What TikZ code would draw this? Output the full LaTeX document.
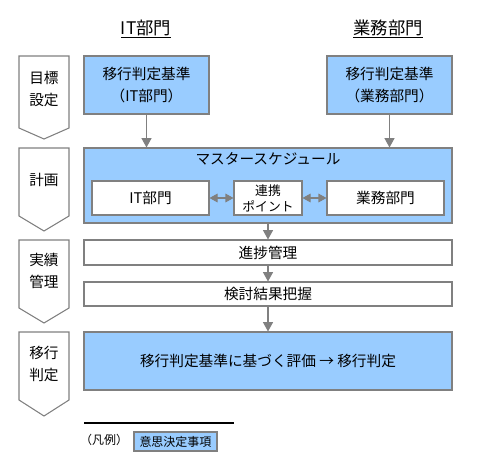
\documentclass[tikz,border=0pt]{standalone}
\usepackage{fontspec}
\setmainfont{Noto Sans CJK JP}
\usetikzlibrary{arrows.meta}
\definecolor{boxblue}{HTML}{99CCFF}
\definecolor{linegray}{HTML}{808080}
\tikzset{
  base/.style={draw=linegray, line width=0.8pt, inner sep=0pt, align=center, font=\fontsize{11}{15}\selectfont},
  bluebox/.style={base, fill=boxblue},
  whitebox/.style={base, fill=white},
  phase/.style={draw=linegray, line width=0.8pt, fill=white},
  phaselabel/.style={align=center, font=\fontsize{11}{16.5}\selectfont},
  arr/.style={draw=linegray, line width=0.8pt, -{Triangle[width=7.5pt,length=7pt]}},
  darr/.style={draw=linegray, line width=0.8pt, {Triangle[width=6.5pt,length=6pt]}-{Triangle[width=6.5pt,length=6pt]}},
  title/.style={font=\fontsize{13}{15}\selectfont}
}
\begin{document}
\begin{tikzpicture}[x=0.75pt,y=-0.75pt]
\useasboundingbox (0,0) rectangle (490,465);
% titles
\node[title] (tit) at (146,29) {\underline{IT部門}};
\node[title] (tbiz) at (388,29) {\underline{業務部門}};
% phase shapes
\draw[phase] (19,56) -- (69,56) -- (69,128) -- (44,139) -- (19,128) -- cycle;
\draw[phase] (19,148) -- (69,148) -- (69,216) -- (44,231) -- (19,216) -- cycle;
\draw[phase] (19,240) -- (69,240) -- (69,308) -- (44,323) -- (19,308) -- cycle;
\draw[phase] (19,332) -- (69,332) -- (69,400) -- (44,416) -- (19,400) -- cycle;
\node[phaselabel] (p1) at (44,89) {目標\\設定};
\node[phaselabel] (p2) at (44,180) {計画};
\node[phaselabel] (p3) at (44,271) {実績\\管理};
\node[phaselabel] (p4) at (44,364) {移行\\判定};
% criteria boxes
\node[bluebox, minimum width=93.75pt, minimum height=43.5pt, font=\fontsize{11}{17}\selectfont] (itcrit) at (146.5,85) {移行判定基準\\（IT部門）};
\node[bluebox, minimum width=93.75pt, minimum height=43.5pt, font=\fontsize{11}{17}\selectfont] (bizcrit) at (389.5,85) {移行判定基準\\（業務部門）};
% master schedule
\node[bluebox, minimum width=276pt, minimum height=56.25pt] (master) at (268,185.5) {};
\node[font=\fontsize{11}{15}\selectfont] (mlabel) at (268,159) {マスタースケジュール};
\node[whitebox, minimum width=87.75pt, minimum height=25.5pt] (itin) at (150.5,198) {IT部門};
\node[whitebox, minimum width=51pt, minimum height=25.5pt, font=\fontsize{9.6}{12}\selectfont] (link) at (268,198) {連携\\ポイント};
\node[whitebox, minimum width=87.75pt, minimum height=25.5pt] (bizin) at (385.5,198) {業務部門};
% tracking
\node[whitebox, minimum width=276pt, minimum height=18.75pt] (prog) at (268,252.5) {進捗管理};
\node[whitebox, minimum width=276pt, minimum height=18pt] (review) at (268,294) {検討結果把握};
\node[bluebox, minimum width=276pt, minimum height=43.5pt] (final) at (268,361) {移行判定基準に基づく評価 → 移行判定};
% arrows
\draw[arr] (itcrit.south) -- (itcrit.south |- master.north);
\draw[arr] (bizcrit.south) -- (bizcrit.south |- master.north);
\draw[darr] (itin.east) -- (link.west);
\draw[darr] (link.east) -- (bizin.west);
\draw[arr] (master.south) -- (prog.north);
\draw[arr] (prog.south) -- (review.north);
\draw[arr] (review.south) -- (final.north);
% legend
\coordinate (l1) at (84,423);
\coordinate (l2) at (234,423);
\draw[black, line width=0.8pt] (l1) -- (l2);
\node[font=\fontsize{9}{11}\selectfont] (hanrei) at (104,440) {（凡例）};
\node[bluebox, minimum width=62.25pt, minimum height=14.25pt, font=\fontsize{9}{11}\selectfont] (legbox) at (175.5,441.5) {意思決定事項};
\end{tikzpicture}
\end{document}
